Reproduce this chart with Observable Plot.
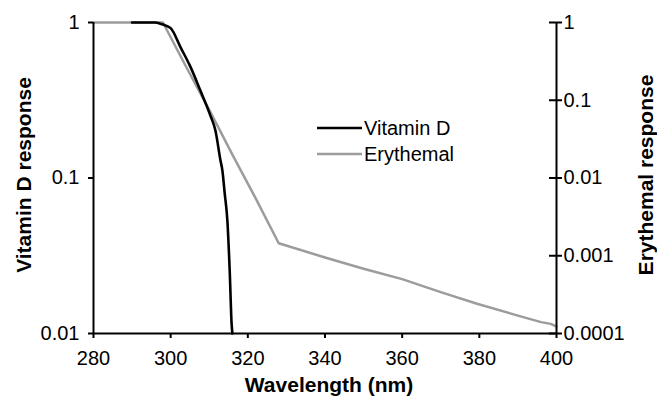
<!DOCTYPE html>
<html><head><meta charset="utf-8">
<script src="https://cdn.jsdelivr.net/npm/d3@7"></script>
<script src="https://cdn.jsdelivr.net/npm/@observablehq/plot@0.6"></script>
<style>
body{margin:0;background:#fff;}
#wrap{position:relative;width:657px;height:397px;font-family:"Liberation Sans",Arial,Helvetica,sans-serif;}
#legend{position:absolute;left:317px;top:115px;font-size:20px;color:#000;}
.item{display:flex;align-items:center;height:26px;white-space:nowrap;}
.item svg{margin-right:2px;}
</style></head><body>
<div id="wrap"><div id="chart"></div><div id="legend"></div></div>
<script>
// Vitamin D action spectrum (left axis)
const vitDWavelength = [290, 294, 296, 298, 300, 302.6, 305.1, 307.7, 310.3, 311.6, 312.9, 313.4, 314, 314.7, 315.3, 315.8, 316];
const vitDResponse   = [1, 1, 1, 0.97, 0.92, 0.69, 0.52, 0.365, 0.252, 0.202, 0.13, 0.112, 0.08, 0.053, 0.0254, 0.0115, 0.01];
// Erythemal action spectrum (right axis)
const eryWavelength = [280, 290, 298, 304, 310, 316, 322, 328, 340, 350, 360, 370, 379.4, 390, 396, 398.5, 400];
const eryResponse   = [1, 1, 1, 0.27, 0.075, 0.02, 0.0055, 0.00145, 0.00095, 0.00068, 0.0005, 0.00034, 0.000241, 0.00017, 0.00014, 0.000133, 0.000123];

const seriesNames  = ["Vitamin D", "Erythemal"];
const seriesColors = ["#000000", "#9c9c9c"];

const xTicks = [280, 300, 320, 340, 360, 380, 400];
const leftTicks = [1, 0.1, 0.01];
const leftTickLabels = ["1", "0.1", "0.01"];
const rightTickValues = [1, 0.1, 0.01, 0.001, 0.0001];
const rightTickLabels = ["1", "0.1", "0.01", "0.001", "0.0001"];

const xTitle = "Wavelength (nm)";
const leftTitle = "Vitamin D response";
const rightTitle = "Erythemal response";

// right axis (1..0.0001) maps onto left axis (1..0.01): two decades on the right = one on the left
const toLeft = v => Math.sqrt(v);

const vitD = vitDWavelength.map((w, i) => ({w, v: vitDResponse[i]}));
const ery = eryWavelength.map((w, i) => ({w, v: toLeft(eryResponse[i])}));
const rightTicksLeft = rightTickValues.map(toLeft);

const chart = Plot.plot({
  width: 657,
  height: 397,
  marginLeft: 93,
  marginRight: 101,
  marginTop: 22,
  marginBottom: 64,
  style: {background: "white", fontSize: "20px", fontFamily: "'Liberation Sans', Arial, Helvetica, sans-serif", color: "black"},
  x: {domain: [280, 400]},
  y: {type: "log", domain: [0.01, 1]},
  marks: [
    Plot.line(ery, {x: "w", y: "v", stroke: seriesColors[1], strokeWidth: 2.5}),
    Plot.line(vitD, {x: "w", y: "v", stroke: seriesColors[0], strokeWidth: 2.6, curve: "monotone-x"}),
    Plot.ruleX([280], {stroke: "black", strokeWidth: 2}),
    Plot.ruleX([400], {stroke: "black", strokeWidth: 2}),
    Plot.ruleY([0.01], {stroke: "black", strokeWidth: 2}),
    Plot.axisX({ticks: xTicks, tickSize: 5, tickPadding: 12, strokeWidth: 2, label: null, tickFormat: d => String(d)}),
    Plot.axisY({anchor: "left", ticks: leftTicks, tickSize: 5, tickPadding: 9, strokeWidth: 2, label: null,
      tickFormat: d => leftTickLabels[leftTicks.indexOf(d)]}),
    Plot.axisY({anchor: "right", ticks: rightTicksLeft, tickSize: 13, insetRight: 8, tickPadding: 2, strokeWidth: 2, label: null,
      tickFormat: d => rightTickLabels[rightTicksLeft.indexOf(d)]}),
    Plot.text([xTitle], {frameAnchor: "bottom", dx: 4, dy: 44, lineAnchor: "top", fontWeight: "bold", fontSize: 21}),
    Plot.text([leftTitle], {frameAnchor: "left", textAnchor: "middle", dx: -69, dy: -3, rotate: -90, fontWeight: "bold", fontSize: 21}),
    Plot.text([rightTitle], {frameAnchor: "right", textAnchor: "middle", dx: 90, dy: -3, rotate: -90, fontWeight: "bold", fontSize: 21})
  ]
});
document.getElementById("chart").appendChild(chart);

const legend = document.getElementById("legend");
seriesNames.forEach((name, i) => {
  const row = document.createElement("div");
  row.className = "item";
  row.innerHTML = `<svg width="45" height="6"><line x1="0" y1="3" x2="45" y2="3" stroke="${seriesColors[i]}" stroke-width="2.6"/></svg><span>${name}</span>`;
  legend.appendChild(row);
});
</script>
</body></html>
